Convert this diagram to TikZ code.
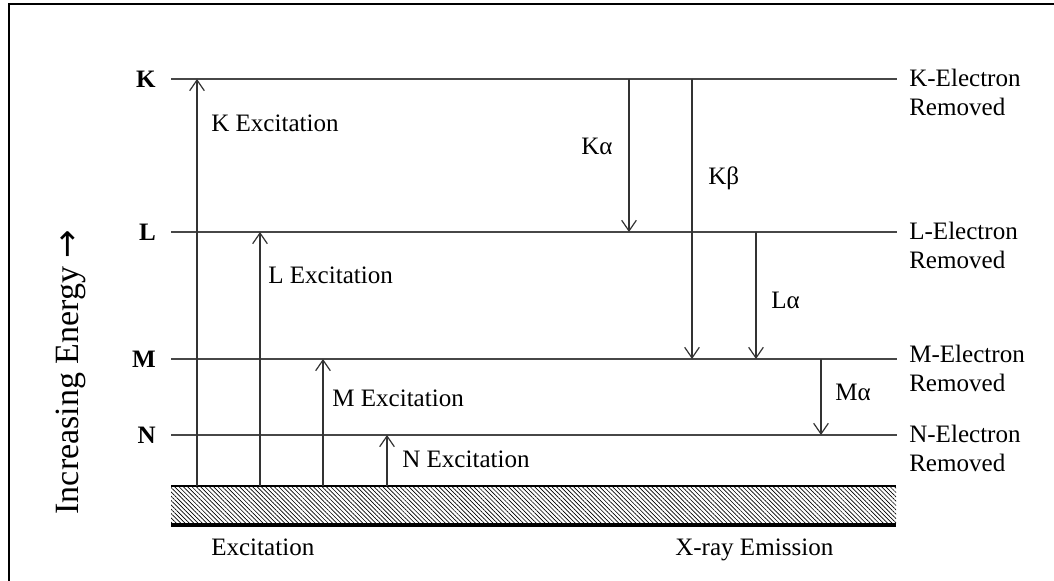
\documentclass[tikz,border=0pt]{standalone}
\usepackage{fontspec}
\setmainfont{Liberation Serif}
\newfontfamily\arrowfont{DejaVu Sans}
\usetikzlibrary{arrows.meta,patterns.meta}

\begin{document}
\begin{tikzpicture}[x=0.75pt,y=-0.75pt,
  level/.style={draw=black!72,line width=1pt},
  trans/.style={draw=black!80,line width=1pt,-{Straight Barb[length=8pt,width=11pt,line width=0.9pt]}},
  txt/.style={anchor=base west,inner sep=0pt,font=\fontsize{18.8}{21.75}\selectfont},
  shell/.style={anchor=east,inner sep=0pt,font=\fontsize{18.8}{21.75}\selectfont\bfseries},
  removed/.style={anchor=north west,inner sep=0pt,align=left,font=\fontsize{18.8}{21.75}\selectfont}]
\useasboundingbox (0,0) rectangle (1054,581);

% frame
\draw[line width=1.6pt] (9,581) -- (9,4) -- (1054,4);

% energy levels
\coordinate (K) at (171,79);  \coordinate (Ke) at (897,79);
\coordinate (L) at (171,232); \coordinate (Le) at (897,232);
\coordinate (M) at (171,359); \coordinate (Me) at (897,359);
\coordinate (N) at (171,435); \coordinate (Ne) at (897,435);
\draw[level] (K) -- (Ke);
\draw[level] (L) -- (Le);
\draw[level] (M) -- (Me);
\draw[level] (N) -- (Ne);

\node[shell] (Klab) at (156,79) {K};
\node[shell] (Llab) at (156,232) {L};
\node[shell] (Mlab) at (156,359) {M};
\node[shell] (Nlab) at (156,435) {N};

\node[removed] (Krem) at (909,69) {K-Electron\\Removed};
\node[removed] (Lrem) at (909,222) {L-Electron\\Removed};
\node[removed] (Mrem) at (909,345) {M-Electron\\Removed};
\node[removed] (Nrem) at (909,425) {N-Electron\\Removed};

% ground state
\fill[pattern={Lines[angle=-45,distance=2.3pt,line width=0.5pt]}] (171,486) rectangle (896,525);
\draw[line width=1.6pt] (171,486) -- (896,486);
\draw[line width=2.6pt] (171,525) -- (896,525);

% excitation
\coordinate (kx) at (197,486);
\coordinate (lx) at (260,486);
\coordinate (mx) at (323,486);
\coordinate (nx) at (387,486);
\draw[trans] (kx) -- (kx |- K);
\draw[trans] (lx) -- (lx |- L);
\draw[trans] (mx) -- (mx |- M);
\draw[trans] (nx) -- (nx |- N);
\node[txt] (kxlab) at (211,132) {K Excitation};
\node[txt] (lxlab) at (268,284) {L Excitation};
\node[txt] (mxlab) at (332,406) {M Excitation};
\node[txt] (nxlab) at (402,467) {N Excitation};

% emission
\coordinate (ka) at (629,79);
\coordinate (kb) at (692,79);
\coordinate (la) at (756,232);
\coordinate (ma) at (821,359);
\draw[trans] (ka) -- (ka |- L);
\draw[trans] (kb) -- (kb |- M);
\draw[trans] (la) -- (la |- M);
\draw[trans] (ma) -- (ma |- N);
\node[txt] (kalab) at (581,155) {Kα};
\node[txt] (kblab) at (708,185) {Kβ};
\node[txt] (lalab) at (771,308) {Lα};
\node[txt] (malab) at (835,400) {Mα};

\node[txt] (exc) at (211,555) {Excitation};
\node[txt] (emi) at (675,555) {X-ray Emission};

\node[rotate=90,anchor=base,inner sep=0pt,font=\fontsize{25.5}{28}\selectfont] (energy) at (78,372) {Increasing Energy {\arrowfont →}};
\end{tikzpicture}
\end{document}
